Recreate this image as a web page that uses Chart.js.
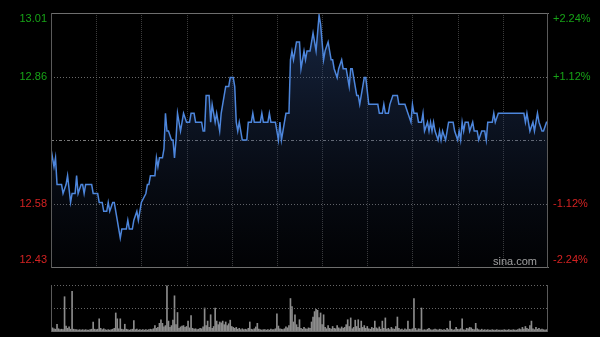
<!DOCTYPE html>
<html>
<head>
<meta charset="utf-8">
<script src="https://cdn.jsdelivr.net/npm/chart.js@4.4.1/dist/chart.umd.min.js"></script>
<style>
html, body { margin: 0; padding: 0; background: #000; }
#wrap { position: relative; width: 600px; height: 337px; background: #000; overflow: hidden; }
#priceChart { position: absolute; left: 0; top: 0; }
#volChart { position: absolute; left: 0; top: 270px; }
</style>
</head>
<body>
<div id="wrap">
  <canvas id="priceChart" width="600" height="337"></canvas>
  <canvas id="volChart" width="600" height="67"></canvas>
</div>
<script>
// trading minutes from the open (HK session, 330 minutes), price at each turn of the line
var priceMinutes = [0, 2, 3, 4, 7, 8, 10, 11, 13, 14, 16, 17, 18, 20, 21, 22, 23, 27, 28, 31,
  32, 34, 35, 37, 38, 39, 41, 42, 43, 44, 45, 46, 47, 50, 51, 52, 54, 55, 57, 58,
  59, 60, 63, 64, 65, 66, 69, 70, 71, 72, 74, 75, 76, 77, 78, 80, 81, 82, 83, 84,
  86, 88, 90, 92, 93, 95, 96, 100, 101, 102, 103, 105, 106, 107, 109, 110, 112, 113, 115, 116,
  118, 119, 121, 122, 123, 124, 125, 127, 130, 131, 133, 134, 135, 139, 140, 141, 144, 145, 146, 149,
  150, 151, 152, 153, 154, 155, 156, 158, 159, 160, 161, 162, 163, 165, 166, 167, 168, 169, 170, 172,
  174, 175, 176, 178, 179, 180, 181, 182, 184, 186, 187, 188, 190, 191, 193, 194, 196, 197, 198, 199,
  200, 201, 203, 204, 205, 206, 208, 209, 211, 217, 218, 220, 221, 222, 224, 225, 227, 230, 231, 235,
  237, 239, 240, 241, 243, 244, 246, 247, 248, 250, 251, 252, 253, 254, 255, 257, 258, 259, 260, 262,
  263, 264, 267, 268, 270, 271, 272, 273, 274, 275, 277, 278, 280, 281, 283, 284, 286, 288, 289, 290,
  293, 294, 295, 297, 314, 315, 316, 318, 320, 321, 323, 324, 326, 327, 329, 330];
var priceValues = [12.70, 12.66, 12.68, 12.62, 12.62, 12.60, 12.62, 12.64, 12.58, 12.60, 12.60, 12.64, 12.60, 12.62, 12.62, 12.60, 12.62, 12.62, 12.60, 12.60,
  12.58, 12.58, 12.56, 12.56, 12.58, 12.56, 12.58, 12.58, 12.56, 12.54, 12.52, 12.50, 12.52, 12.52, 12.54, 12.52, 12.52, 12.54, 12.56, 12.54,
  12.56, 12.58, 12.60, 12.62, 12.62, 12.64, 12.64, 12.68, 12.66, 12.68, 12.68, 12.70, 12.78, 12.74, 12.74, 12.72, 12.72, 12.68, 12.72, 12.78,
  12.74, 12.78, 12.76, 12.76, 12.78, 12.78, 12.76, 12.76, 12.74, 12.74, 12.82, 12.82, 12.76, 12.80, 12.76, 12.78, 12.74, 12.78, 12.82, 12.84,
  12.84, 12.86, 12.86, 12.84, 12.76, 12.74, 12.76, 12.72, 12.72, 12.76, 12.76, 12.78, 12.76, 12.76, 12.78, 12.76, 12.76, 12.78, 12.76, 12.76,
  12.74, 12.72, 12.76, 12.72, 12.74, 12.76, 12.78, 12.78, 12.90, 12.92, 12.90, 12.92, 12.94, 12.94, 12.88, 12.90, 12.92, 12.90, 12.92, 12.92,
  12.96, 12.94, 12.92, 13.00, 12.98, 12.94, 12.90, 12.92, 12.94, 12.90, 12.90, 12.88, 12.86, 12.88, 12.90, 12.88, 12.88, 12.86, 12.84, 12.88,
  12.88, 12.86, 12.82, 12.82, 12.80, 12.82, 12.86, 12.86, 12.80, 12.80, 12.78, 12.78, 12.80, 12.78, 12.78, 12.80, 12.82, 12.82, 12.80, 12.80,
  12.78, 12.76, 12.80, 12.78, 12.78, 12.76, 12.76, 12.78, 12.74, 12.76, 12.74, 12.76, 12.74, 12.76, 12.74, 12.72, 12.74, 12.72, 12.74, 12.72,
  12.74, 12.76, 12.76, 12.74, 12.72, 12.74, 12.72, 12.76, 12.74, 12.76, 12.76, 12.74, 12.76, 12.74, 12.74, 12.72, 12.74, 12.74, 12.72, 12.76,
  12.76, 12.78, 12.76, 12.78, 12.78, 12.76, 12.78, 12.74, 12.76, 12.74, 12.78, 12.76, 12.74, 12.74, 12.76, 12.76];

// volume per minute, minutes 0..330 (relative units)
var volumes = [
  17, 7, 5, 4, 15, 5, 3, 4, 3, 76, 11, 6, 9, 4, 88, 4, 3, 3, 2, 3, 2, 3, 2, 3, 2, 2, 3, 4, 20, 4,
  3, 4, 27, 6, 3, 5, 3, 2, 3, 2, 3, 4, 6, 40, 27, 5, 27, 4, 3, 15, 4, 3, 2, 3, 4, 23, 3, 4, 2, 3,
  2, 3, 2, 3, 2, 3, 4, 3, 5, 12, 6, 8, 17, 25, 17, 9, 12, 100, 22, 8, 12, 24, 78, 14, 41, 6, 9, 11, 12, 8,
  10, 22, 7, 34, 6, 4, 5, 3, 4, 6, 5, 9, 51, 12, 22, 8, 36, 6, 10, 51, 22, 14, 20, 18, 22, 14, 20, 12, 16, 24,
  10, 8, 6, 8, 4, 6, 3, 5, 3, 4, 3, 6, 20, 4, 3, 5, 9, 17, 4, 3, 2, 3, 3, 2, 3, 2, 4, 3, 3, 5,
  38, 11, 5, 4, 3, 5, 9, 7, 12, 72, 54, 20, 36, 14, 8, 25, 6, 4, 8, 5, 4, 7, 6, 20, 31, 43, 48, 46, 30, 40,
  14, 36, 8, 5, 12, 6, 4, 10, 6, 5, 12, 7, 5, 9, 6, 8, 14, 25, 10, 29, 5, 8, 24, 10, 25, 6, 22, 8, 12, 6,
  10, 5, 4, 8, 6, 22, 7, 5, 9, 4, 22, 6, 29, 4, 6, 3, 8, 5, 4, 10, 31, 6, 3, 4, 2, 5, 3, 22, 4, 3,
  5, 72, 6, 2, 5, 4, 51, 2, 3, 2, 4, 6, 3, 2, 3, 4, 3, 2, 4, 3, 2, 3, 2, 6, 3, 22, 4, 2, 3, 8,
  4, 3, 5, 27, 3, 2, 6, 5, 8, 7, 4, 3, 17, 5, 3, 2, 4, 2, 3, 2, 3, 2, 2, 3, 2, 2, 3, 2, 2, 2,
  2, 3, 2, 2, 3, 2, 2, 3, 2, 2, 3, 5, 3, 8, 4, 10, 6, 4, 12, 22, 5, 3, 8, 4, 6, 3, 4, 3, 2, 3, 2];

var prevClose = 12.72;
var tickValues = [13.005, 12.8625, 12.5775, 12.435];
var leftTickLabels = ["13.01", "12.86", "12.58", "12.43"];
var rightTickLabels = ["+2.24%", "+1.12%", "-1.12%", "-2.24%"];
var gridMinutes = [30, 60, 90, 120, 150, 180, 210, 240, 270, 300];

var upColor = "#17a317";
var downColor = "#d42222";
var labelFont = '11px "Liberation Sans", Arial, sans-serif';

function hLine(ctx, y, x0, x1) {
    ctx.beginPath();
    ctx.moveTo(x0, y);
    ctx.lineTo(x1, y);
    ctx.stroke();
}
function vLine(ctx, x, y0, y1) {
    ctx.beginPath();
    ctx.moveTo(x, y0);
    ctx.lineTo(x, y1);
    ctx.stroke();
}

var priceGrid = {
    id: "priceGrid",
    beforeDatasetsDraw: function (chart) {
        var ctx = chart.ctx, a = chart.chartArea;
        var xs = chart.scales.x, ys = chart.scales.y;
        ctx.save();
        ctx.lineWidth = 1;
        ctx.strokeStyle = "#3c3c3c";
        ctx.setLineDash([1, 1]);
        gridMinutes.forEach(function (m) {
            vLine(ctx, Math.round(xs.getPixelForValue(m)) + 0.5, a.top, a.bottom);
        });
        ctx.strokeStyle = "#6a6a6a";
        ctx.setLineDash([1, 2]);
        [tickValues[1], tickValues[2]].forEach(function (v) {
            hLine(ctx, Math.round(ys.getPixelForValue(v)) + 0.5, a.left, a.right);
        });
        ctx.strokeStyle = "#7a7a7a";
        ctx.setLineDash([3, 2, 1, 2]);
        hLine(ctx, Math.round(ys.getPixelForValue(prevClose)) + 0.5, a.left, a.right);
        ctx.restore();
    },
    afterDatasetsDraw: function (chart) {
        var ctx = chart.ctx, a = chart.chartArea, ys = chart.scales.y;
        ctx.save();
        ctx.lineWidth = 1;
        ctx.setLineDash([]);
        ctx.strokeStyle = "#6e6e6e";
        hLine(ctx, a.top + 0.5, a.left, a.right + 1);
        hLine(ctx, a.bottom + 0.5, a.left, a.right + 1);
        ctx.strokeStyle = "#5a5a5a";
        vLine(ctx, a.left + 0.5, a.top, a.bottom + 1);
        vLine(ctx, a.right - 0.5, a.top, a.bottom + 1);

        ctx.font = labelFont;
        ctx.textBaseline = "middle";
        tickValues.forEach(function (v, i) {
            var y = ys.getPixelForValue(v);
            if (i === 0) y += 6;
            if (i === tickValues.length - 1) y -= 7;
            ctx.fillStyle = v > prevClose ? upColor : downColor;
            ctx.textAlign = "right";
            ctx.fillText(leftTickLabels[i], a.left - 4, y);
            ctx.textAlign = "left";
            ctx.fillText(rightTickLabels[i], a.right + 5, y);
        });
        ctx.fillStyle = "#a0a0a0";
        ctx.textAlign = "right";
        ctx.fillText("sina.com", a.right - 11, a.bottom - 5);
        ctx.restore();
    }
};

var volGrid = {
    id: "volGrid",
    afterDatasetsDraw: function (chart) {
        var ctx = chart.ctx, a = chart.chartArea;
        ctx.save();
        ctx.lineWidth = 1;
        ctx.strokeStyle = "#666";
        ctx.setLineDash([1, 2]);
        hLine(ctx, a.top + 0.5, a.left, a.right);
        hLine(ctx, Math.round((a.top + a.bottom) / 2) + 0.5, a.left, a.right);
        ctx.setLineDash([]);
        ctx.strokeStyle = "#6e6e6e";
        hLine(ctx, a.bottom + 0.5, a.left, a.right);
        ctx.strokeStyle = "#5a5a5a";
        vLine(ctx, a.left + 0.5, a.top, a.bottom + 1);
        vLine(ctx, a.right - 0.5, a.top, a.bottom + 1);
        ctx.restore();
    }
};

var pricePoints = priceMinutes.map(function (m, i) {
    return { x: m, y: priceValues[i] };
});
var volPoints = volumes.map(function (v, i) {
    return { x: i, y: v };
});

new Chart("priceChart", {
    type: "line",
    data: {
        datasets: [{
            data: pricePoints,
            borderColor: "#4d86dc",
            borderWidth: 1.5,
            pointRadius: 0,
            tension: 0,
            fill: "start",
            backgroundColor: function (c) {
                var a = c.chart.chartArea;
                if (!a) return "rgba(30,50,90,0.3)";
                var g = c.chart.ctx.createLinearGradient(0, a.top, 0, a.bottom);
                g.addColorStop(0, "rgba(45,75,130,0.5)");
                g.addColorStop(1, "rgba(30,45,80,0.05)");
                return g;
            }
        }]
    },
    options: {
        responsive: false,
        animation: false,
        layout: { padding: { left: 51, right: 52, top: 13, bottom: 70 } },
        plugins: {
            legend: { display: false },
            tooltip: { enabled: false }
        },
        scales: {
            x: { type: "linear", min: 0, max: 330, display: false },
            y: { min: 12.435, max: 13.005, display: false }
        }
    },
    plugins: [priceGrid]
});

new Chart("volChart", {
    type: "bar",
    data: {
        datasets: [{
            data: volPoints,
            backgroundColor: "#8c8c8c",
            barThickness: 1
        }]
    },
    options: {
        responsive: false,
        animation: false,
        layout: { padding: { left: 51, right: 52, top: 15, bottom: 6 } },
        plugins: {
            legend: { display: false },
            tooltip: { enabled: false }
        },
        scales: {
            x: { type: "linear", min: 0, max: 330, display: false, offset: false },
            y: { min: 0, max: 102, display: false }
        }
    },
    plugins: [volGrid]
});
</script>
</body>
</html>
